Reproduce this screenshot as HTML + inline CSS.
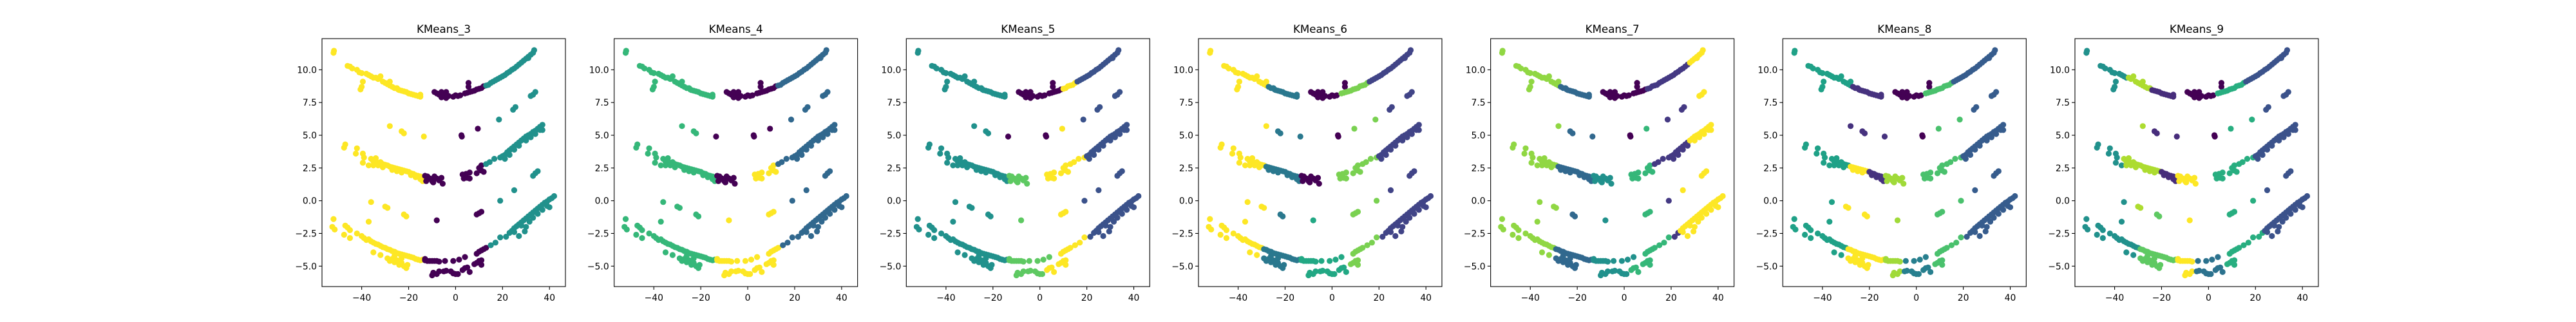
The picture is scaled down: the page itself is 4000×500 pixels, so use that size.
<!DOCTYPE html>
<html><head><meta charset="utf-8">
<style>
html,body{margin:0;padding:0;background:#fff;}
svg{display:block;}
text{font-family:"DejaVu Sans","Liberation Sans",sans-serif;fill:#000;}
</style></head>
<body>
<svg id="fig" width="4000" height="500" viewBox="0 0 4000 500" xmlns="http://www.w3.org/2000/svg">
<rect x="0" y="0" width="4000" height="500" fill="#fff"/>
</svg>
<script>
// ---- data ----
const titles = ["KMeans_3","KMeans_4","KMeans_5","KMeans_6","KMeans_7","KMeans_8","KMeans_9"];
const xTicks = [-40,-20,0,20,40];
const xTickLabels = ["\u221240","\u221220","0","20","40"];
const yTicks = [-5,-2.5,0,2.5,5,7.5,10];
const yTickLabels = ["\u22125.0","\u22122.5","0.0","2.5","5.0","7.5","10.0"];
const groups = [
[[-52,11.3],[-51.8,11.45]],
[[-46,10.3],[-45,10.25],[-44,10.1],[-42,10.0],[-41,9.8],[-40,9.75],[-38,9.7],[-37,9.6],[-36,9.5],[-35,9.4]],
[[-39.5,9.1],[-40,8.7],[-40.5,8.5]],
[[-34,9.4],[-33,9.3],[-32,9.5],[-31,9.1],[-30,9.0],[-29,8.9],[-28,9.1],[-28,8.8]],
[[-27,8.7],[-26,8.6],[-25,8.6],[-24.5,8.5]],
[[-24,8.45],[-23,8.4],[-22,8.35],[-21,8.3],[-20,8.2],[-19,8.15],[-18,8.1],[-17,8.05],[-16,8.0],[-15,7.95],[-15,8.1]],
[[-9,8.3],[-8,8.2],[-7,8.1],[-6,8.3],[-5,8.2],[-4,8.3],[-6,7.9],[-4,7.85],[-3,8.0],[-1,7.95],[0,8.05],[1,8.0],[2,8.05]],
[[5.5,9.0],[5.5,8.7]],
[[4,8.2],[5,8.25],[6,8.3],[7,8.35],[8,8.4],[9,8.5]],
[[10,8.55],[11,8.6],[12,8.75]],
[[13,8.8],[14,8.85],[15,9.0]],
[[16,9.1],[17,9.2],[18,9.3],[19,9.4]],
[[20,9.5],[21,9.6],[22,9.75],[23,9.85],[24,10.0],[25,10.1],[26,10.25],[27,10.4]],
[[28,10.55],[29,10.7],[30,10.85],[31,11.0],[32,11.15],[33,11.3],[33.5,11.5],[31,10.9]],
[[-28,5.7]],
[[-23,5.3],[-22,5.15]],
[[-13.5,4.9]],
[[2.5,5.0],[2.7,4.9]],
[[9.5,5.5]],
[[18.5,6.2]],
[[24.5,6.95],[25.5,7.15]],
[[32,8.0],[33,8.1],[34,8.3]],
[[-47,4.3],[-47.5,4.05],[-42,4.0],[-42.5,3.6],[-39.5,3.6],[-39,3.3],[-39.5,2.9],[-37,2.7]],
[[-36,3.2],[-35,3.0],[-34,3.25],[-33,2.9],[-32,2.95],[-31,2.8],[-30,2.75],[-29,2.7],[-35,2.7],[-33,2.7],[-31,2.55]],
[[-28,2.6],[-27,2.55],[-26,2.5],[-25,2.45],[-24,2.4],[-23,2.35],[-22,2.3],[-21,2.25],[-27,2.35],[-25,2.25],[-23,2.15]],
[[-20,2.2],[-19,2.1],[-18,2.05],[-17,1.95],[-16,1.9],[-15,1.85],[-14,1.8],[-19,1.95],[-17,1.8],[-15,1.65],[-14,1.5]],
[[-13,1.9],[-12,1.85],[-11,1.7],[-10,1.5],[-9,1.85],[-8,1.7],[-7,1.55],[-6,1.75],[-5.5,1.3],[-12.5,1.5],[-9.5,1.4]],
[[3,2.0],[3.5,1.7],[4.5,2.05],[5,1.75],[6,2.15],[6,1.7]],
[[9,2.1],[10,2.5],[11,2.3],[12,2.2],[11,2.7]],
[[13,2.8],[14.5,2.95],[16.5,3.2],[19,3.3]],
[[20,3.4],[21,3.5],[22,3.7],[23,3.85],[24,4.0],[25,4.15],[26,4.3],[27,4.45],[21,3.2],[23,3.5],[25,3.9],[27,4.2]],
[[28,4.6],[29,4.75],[30,4.9],[31,5.0],[32,5.1],[33,5.25],[34,5.35],[35,5.5],[36,5.65],[37,5.8],[30,4.6],[32,4.85],[34,5.1],[36,5.4],[37,5.4]],
[[-36,-0.1]],
[[-30,-0.45],[-29,-0.55]],
[[-22,-1.05],[-21,-1.2]],
[[-37,-1.6]],
[[-8,-1.5]],
[[9,-1.05],[10,-0.95],[11,-0.85]],
[[19,0.0]],
[[25,0.8]],
[[33,1.9],[34,2.1],[35,2.25]],
[[-52,-1.4],[-52.5,-2.0],[-51.5,-2.2],[-47,-1.9],[-46,-2.05],[-45,-2.25],[-47.5,-2.6],[-45,-2.85],[-42,-2.5]],
[[-40,-2.7],[-39,-2.85],[-38,-3.0],[-37,-2.95],[-36,-3.1],[-35,-3.2],[-34,-3.3],[-33,-3.35],[-32,-3.45],[-31,-3.55],[-35,-3.95],[-32,-4.15],[-30,-3.6]],
[[-29,-3.7],[-28,-3.75],[-27,-3.85],[-26,-3.9],[-25,-4.0],[-24,-4.05],[-23,-4.1],[-22,-4.15],[-21,-4.2],[-29,-4.4],[-28,-4.6],[-27,-4.45],[-26,-4.7],[-25,-4.55],[-24,-4.9],[-23,-4.75],[-22,-5.0],[-21,-5.15],[-20.5,-4.9],[-26,-4.2],[-23,-4.4]],
[[-20,-4.25],[-19,-4.3],[-18,-4.35],[-17,-4.45],[-16,-4.5],[-15,-4.55],[-14,-4.5]],
[[-13,-4.55],[-12,-4.6],[-11,-4.6],[-10,-4.6],[-9,-4.6],[-8,-4.6],[-7,-4.65],[-13,-4.45]],
[[-4.5,-4.6],[-1,-4.6],[1.5,-4.5],[4,-4.3]],
[[-10,-5.7],[-9.5,-5.5],[-8,-5.6],[-7,-5.4]],
[[-5,-5.4],[-4,-5.35],[-2,-5.4],[-1,-5.55],[0,-5.6],[1,-5.6]],
[[3,-5.3],[4,-5.15],[5,-5.1],[6,-5.45]],
[[8,-4.85],[9,-4.75],[10,-4.6],[11,-4.55],[11,-4.9]],
[[9,-4.05],[10,-3.9],[11,-3.8],[12,-3.7],[13,-3.6]],
[[15,-3.4],[17,-3.2],[19,-2.8]],
[[21.5,-2.75],[23,-2.45]],
[[24,-2.3],[25,-2.1],[26,-1.95],[27,-1.8],[28,-1.65],[29,-1.5],[30,-1.35],[25,-2.4],[27,-2.7],[29.5,-2.35],[30,-2.0],[28,-1.9]],
[[31,-1.2],[32,-1.05],[33,-0.9],[34,-0.75],[35,-0.6],[36,-0.45],[37,-0.3],[38,-0.15],[39,-0.05],[40,0.1],[41,0.2],[42,0.35],[33,-1.3],[35,-1.0],[37,-0.7],[39,-0.4],[40,-0.5],[31.5,-1.6]]
];
const palettes = [
["#440154","#21918c","#fde725"],
["#440154","#31688e","#35b779","#fde725"],
["#440154","#3b528b","#21918c","#5ec962","#fde725"],
["#440154","#414487","#2a788e","#22a884","#7ad151","#fde725"],
["#440154","#443983","#31688e","#21918c","#35b779","#90d743","#fde725"],
["#440154","#46327e","#365c8d","#277f8e","#1fa187","#4ac16d","#a0da39","#fde725"],
["#440154","#472d7b","#3b528b","#2c728e","#21918c","#28ae80","#5ec962","#addc30","#fde725"]
];
const labelsK3 = [2,2,2,2,2,2,0,0,0,0,1,1,1,1, 2,2,2,0,0,1,1,1, 2,2,2,2,0,0,0,1,1,1, 2,2,2,2,0,0,1,1,1, 2,2,2,2,0,0,0,0,0,0,0,1,1,1,1];
const labelsK4 = [2,2,2,2,2,2,0,0,0,0,1,1,1,1, 2,2,0,0,0,1,1,1, 2,2,2,2,0,3,3,1,1,1, 2,2,2,2,3,3,1,1,1, 2,2,2,2,3,3,3,3,3,3,3,1,1,1,1];
const labelsK5 = [2,2,2,2,2,2,0,0,0,4,4,1,1,1, 2,2,0,0,4,1,1,1, 2,2,2,2,3,4,4,4,1,1, 2,2,2,2,3,4,1,1,1, 2,2,2,2,3,3,3,3,4,4,4,4,1,1,1];
const labelsK6 = [5,5,5,5,2,2,0,0,4,4,4,1,1,1, 5,2,2,0,4,4,1,1, 5,5,2,2,0,4,4,4,1,1, 5,5,2,5,3,4,4,1,1, 5,5,2,2,3,3,3,3,3,4,4,4,1,1,1];
const labelsK7 = [5,5,5,5,2,2,0,0,0,1,1,1,1,6, 5,2,2,0,4,1,1,6, 5,5,2,2,3,4,4,1,1,6, 5,5,2,5,3,4,1,6,6, 5,5,2,2,3,3,3,3,4,4,4,4,1,6,6];
const labelsK8 = [4,4,4,4,1,1,0,0,5,5,5,2,2,2, 1,1,1,0,5,5,2,2, 4,4,7,1,6,5,5,5,2,2, 4,7,7,4,6,5,5,2,2, 4,4,7,7,6,3,6,3,3,5,5,5,2,2,2];
const labelsK9 = [4,4,4,7,7,1,0,0,5,5,5,2,2,2, 7,1,1,0,5,5,2,2, 4,7,7,1,8,5,5,5,2,2, 4,7,6,4,8,5,5,2,2, 4,4,6,6,8,3,8,3,3,5,5,5,5,2,2];
const allLabels = [labelsK3,labelsK4,labelsK5,labelsK6,labelsK7,labelsK8,labelsK9];

// ---- layout ----
const NS = "http://www.w3.org/2000/svg";
const svg = document.getElementById("fig");
const axW = 378, axH = 385, axTop = 60, axLeft0 = 500, step = 453.66;
const xMin = -56.9, xMax = 46.8, yMin = -6.56, yMax = 12.38;
function mk(tag, attrs, parent){ const e=document.createElementNS(NS,tag); for(const k in attrs) e.setAttribute(k,attrs[k]); (parent||svg).appendChild(e); return e; }

titles.forEach((title, i) => {
  const L = axLeft0 + step*i;
  const sx = v => L + (v - xMin)/(xMax - xMin)*axW;
  const sy = v => axTop + (yMax - v)/(yMax - yMin)*axH;
  const g = mk("g", {});
  
  
  const pts = mk("g", {}, g);
  
  
  const labels = allLabels[i], pal = palettes[i];
  groups.forEach((grp, gi) => {
    grp.forEach(p => {
      const c = mk("circle", {cx: sx(p[0]).toFixed(1), cy: sy(p[1]).toFixed(1), r: 4.6, fill: pal[labels[gi]]}, pts);
      
      
    });
  });
  const frame = mk("rect", {x: L, y: axTop, width: axW, height: axH, fill: "none", stroke: "#000", "stroke-width": 1.1}, g);
  
  
  const t = mk("text", {x: L + axW/2, y: 51, "text-anchor": "middle", "font-size": "16.7px"}, g);
  t.textContent = title;
  
  
  xTicks.forEach((v, k) => {
    const x = sx(v);
    const tk = mk("line", {x1: x, x2: x, y1: axTop+axH, y2: axTop+axH+4.9, stroke: "#000", "stroke-width": 1.1}, g);
    
    
    const tl = mk("text", {x: x, y: axTop+axH+22, "text-anchor": "middle", "font-size": "13.9px"}, g);
    tl.textContent = xTickLabels[k];
    
    
  });
  yTicks.forEach((v, k) => {
    const y = sy(v);
    const tk = mk("line", {x1: L-4.9, x2: L, y1: y, y2: y, stroke: "#000", "stroke-width": 1.1}, g);
    
    
    const tl = mk("text", {x: L-8, y: y+5, "text-anchor": "end", "font-size": "13.9px"}, g);
    tl.textContent = yTickLabels[k];
    
    
  });
});
</script>
</body></html>
